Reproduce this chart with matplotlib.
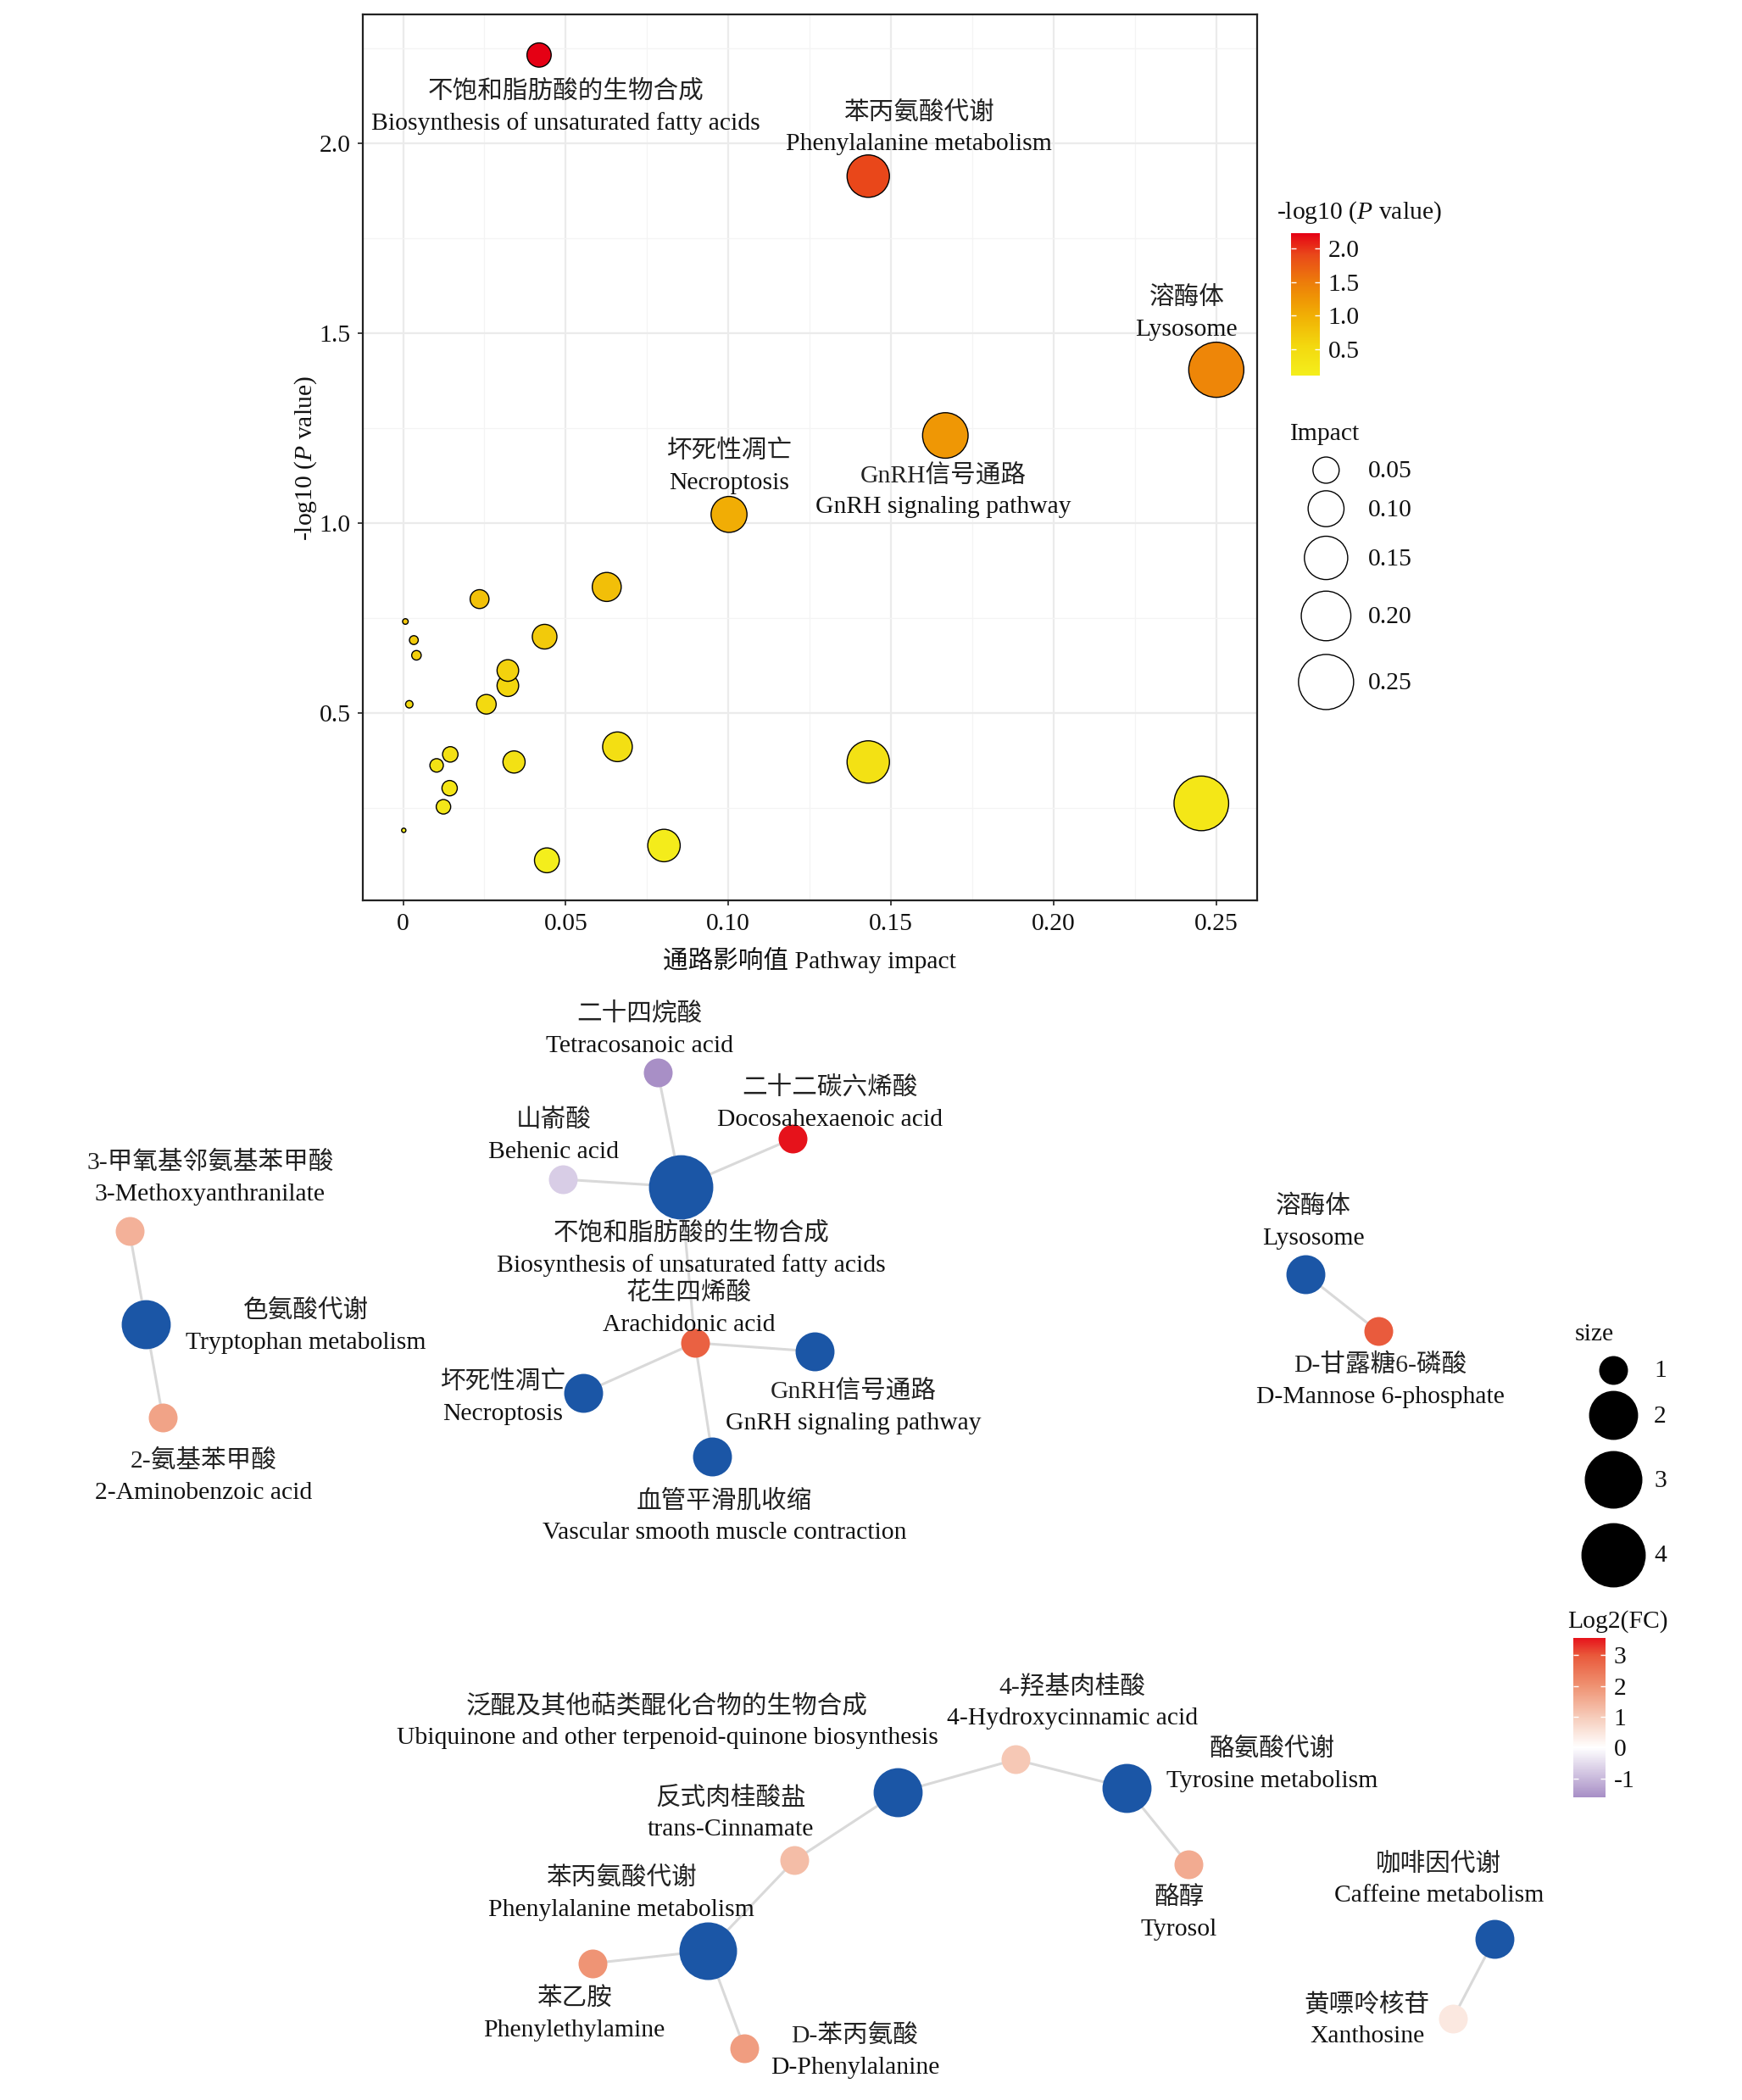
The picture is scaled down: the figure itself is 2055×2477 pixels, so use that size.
import numpy as np
import matplotlib
matplotlib.use("Agg")
import matplotlib.pyplot as plt
from matplotlib.colors import LinearSegmentedColormap, Normalize
import matplotlib.colorbar as mcolorbar

# ---------------- data: pathway bubble chart ----------------
pathway_impact = [0.0418, 0.1430, 0.2500, 0.1667, 0.1002, 0.0626, 0.0235, 0.0435,
                  0.0322, 0.0322, 0.0256, 0.0007, 0.0033, 0.0041, 0.0019, 0.0659,
                  0.0341, 0.0145, 0.0103, 0.0143, 0.0124, 0.0002, 0.0442, 0.0802,
                  0.1430, 0.2454]
pathway_neglogp = [2.233, 1.914, 1.404, 1.231, 1.023, 0.832, 0.800, 0.701,
                   0.612, 0.572, 0.523, 0.741, 0.692, 0.652, 0.523, 0.411,
                   0.371, 0.391, 0.362, 0.302, 0.253, 0.191, 0.112, 0.151,
                   0.371, 0.262]
top_label_point = [0, 1, 2, 4, 3]
top_label_cn = ['不饱和脂肪酸的生物合成', '苯丙氨酸代谢', '溶酶体', '坏死性凋亡', 'GnRH信号通路']
top_label_en = ['Biosynthesis of unsaturated fatty acids', 'Phenylalanine metabolism',
                'Lysosome', 'Necroptosis', 'GnRH signaling pathway']
x_ticks = [0, 0.05, 0.10, 0.15, 0.20, 0.25]
x_ticklabels = ['0', '0.05', '0.10', '0.15', '0.20', '0.25']
y_ticks = [0.5, 1.0, 1.5, 2.0]
y_ticklabels = ['0.5', '1.0', '1.5', '2.0']
impact_legend = [0.05, 0.10, 0.15, 0.20, 0.25]
impact_legend_labels = ['0.05', '0.10', '0.15', '0.20', '0.25']

# ---------------- data: network ----------------
net_cn = ['不饱和脂肪酸的生物合成', '二十四烷酸', '二十二碳六烯酸', '山嵛酸', '花生四烯酸',
          '坏死性凋亡', 'GnRH信号通路', '血管平滑肌收缩', '色氨酸代谢', '3-甲氧基邻氨基苯甲酸',
          '2-氨基苯甲酸', '溶酶体', 'D-甘露糖6-磷酸', '泛醌及其他萜类醌化合物的生物合成',
          '4-羟基肉桂酸', '酪氨酸代谢', '反式肉桂酸盐', '酪醇', '苯丙氨酸代谢', '苯乙胺',
          'D-苯丙氨酸', '咖啡因代谢', '黄嘌呤核苷']
net_en = ['Biosynthesis of unsaturated fatty acids', 'Tetracosanoic acid', 'Docosahexaenoic acid',
          'Behenic acid', 'Arachidonic acid', 'Necroptosis', 'GnRH signaling pathway',
          'Vascular smooth muscle contraction', 'Tryptophan metabolism', '3-Methoxyanthranilate',
          '2-Aminobenzoic acid', 'Lysosome', 'D-Mannose 6-phosphate',
          'Ubiquinone and other terpenoid-quinone biosynthesis', '4-Hydroxycinnamic acid',
          'Tyrosine metabolism', 'trans-Cinnamate', 'Tyrosol', 'Phenylalanine metabolism',
          'Phenylethylamine', 'D-Phenylalanine', 'Caffeine metabolism', 'Xanthosine']
net_is_pathway = [1, 0, 0, 0, 0, 1, 1, 1, 1, 0, 0, 1, 0, 1, 0, 1, 0, 0, 1, 0, 0, 1, 0]
net_size = [4, 1, 1, 1, 1, 1.5, 1.5, 1.5, 2, 1, 1, 1.5, 1, 2, 1, 2, 1, 1, 3, 1, 1, 1.5, 1]
net_log2fc = [np.nan, -1.6, 3.56, -0.7, 2.85, np.nan, np.nan, np.nan, np.nan, 1.45,
              1.7, np.nan, 2.95, np.nan, 1.05, np.nan, 1.25, 1.55, np.nan, 1.95,
              1.8, np.nan, 0.45]
# layout coordinates of the network nodes
node_x = [508.0, 490.9, 591.5, 419.9, 518.7, 435.2, 608.2, 531.7, 109.0, 96.5,
          121.5, 974.0, 1028.4, 670.0, 757.7, 840.5, 592.8, 886.7, 528.4, 442.4,
          555.7, 1115.5, 1084.3]
node_y = [885.6, 800.2, 849.6, 880.0, 1002.0, 1039.4, 1008.5, 1086.8, 987.9, 918.4,
          1057.7, 950.6, 993.5, 1337.6, 1313.0, 1333.9, 1388.2, 1391.0, 1455.6, 1465.0,
          1528.6, 1446.5, 1506.0]
net_edges = [(0, 1), (0, 2), (0, 3), (0, 4), (4, 5), (4, 6), (4, 7), (8, 9), (8, 10),
             (11, 12), (13, 14), (13, 16), (15, 14), (15, 17), (18, 16), (18, 19),
             (18, 20), (21, 22)]
size_legend = [1, 2, 3, 4]
fc_ticks = [-1, 0, 1, 2, 3]

# ---------------- style ----------------
plt.rcParams['font.family'] = ['Liberation Serif', 'Noto Sans CJK SC']
plt.rcParams['mathtext.fontset'] = 'custom'
plt.rcParams['mathtext.rm'] = 'Liberation Serif'
plt.rcParams['mathtext.it'] = 'Liberation Serif:italic'
plt.rcParams['axes.unicode_minus'] = False

W, H, DPI = 2055, 2477, 100
RW, RH = 1300.0, 1567.0          # layout units of the page
PT = W / RW * 72.0 / DPI          # points per layout unit
FS = 21.3
TXT = '#111111'
CN_COL = '#222222'

def fx(x):
    return x / RW

def fy(y):
    return 1 - y / RH

fig = plt.figure(figsize=(W / DPI, H / DPI), dpi=DPI)

# page-level axes in layout units (network + legends)
axn = fig.add_axes([0, 0, 1, 1])
axn.set_xlim(0, RW)
axn.set_ylim(RH, 0)
axn.axis('off')
axn.patch.set_alpha(0)

# ---------------- bubble chart ----------------
ax = fig.add_axes([fx(271), fy(672), fx(938) - fx(271), fy(11) - fy(672)])
imp = np.array(pathway_impact)
nlp = np.array(pathway_neglogp)
p_cmap = LinearSegmentedColormap.from_list(
    'pv', [(0.0, '#F4EE1C'), (0.2, '#F3D90F'), (0.4, '#F1B305'), (0.55, '#EF9305'),
           (0.65, '#ED7D0A'), (0.85, '#E9471A'), (1.0, '#E50014')])
p_norm = Normalize(nlp.min(), nlp.max())

def bubble_r(v):
    return 1.5 + 39.0 * np.sqrt(np.asarray(v, dtype=float))

r = bubble_r(imp)
order = np.argsort(-r)
ax.scatter(imp[order], nlp[order], s=(2 * r[order] * PT - 1.0) ** 2,
           c=p_cmap(p_norm(nlp[order])), edgecolors='black', linewidths=1.0, zorder=3)

xr = max(pathway_impact) - min(pathway_impact)
yr = nlp.max() - nlp.min()
ax.set_xlim(min(pathway_impact) - 0.05 * xr, max(pathway_impact) + 0.05 * xr)
ax.set_ylim(nlp.min() - 0.05 * yr, nlp.max() + 0.05 * yr)
ax.set_xticks(x_ticks)
ax.set_xticklabels(x_ticklabels)
ax.set_yticks(y_ticks)
ax.set_yticklabels(y_ticklabels)
ax.set_xticks(np.arange(0.025, 0.26, 0.05), minor=True)
ax.set_yticks([0.25, 0.75, 1.25, 1.75, 2.25], minor=True)
ax.grid(which='major', color='#EBEBEB', lw=1.6, zorder=0)
ax.grid(which='minor', color='#F4F4F4', lw=0.9, zorder=0)
ax.set_axisbelow(True)
ax.tick_params(which='major', length=4.5, width=1.3, color='#333333', labelsize=FS,
               labelcolor=TXT)
ax.tick_params(axis='x', pad=6)
ax.tick_params(axis='y', pad=6)
ax.tick_params(which='minor', length=0)
for sp in ax.spines.values():
    sp.set_color('#222222')
    sp.set_linewidth(1.6)

# labels of the top pathways
lab_x = [0.0501, 0.1586, 0.2409, 0.1003, 0.1660]
lab_y_cn = [2.1370, 2.0815, 1.5934, 1.1888, 1.1251]
lab_y_en = [2.0520, 1.9986, 1.5088, 1.1041, 1.0418]
for k in range(len(top_label_point)):
    ax.text(lab_x[k], lab_y_cn[k], top_label_cn[k], ha='center', va='center',
            fontsize=FS, color=CN_COL, fontweight='light', zorder=4)
    ax.text(lab_x[k], lab_y_en[k], top_label_en[k], ha='center', va='center',
            fontsize=FS, color=TXT, zorder=4)

fig.text(fx(604), fy(716.5), '通路影响值 Pathway impact', ha='center', va='center',
         fontsize=FS, color=TXT, fontweight='light')
fig.text(fx(228), fy(342), r'-log10 ($\mathit{P}$ value)', ha='center', va='center',
         rotation=90, fontsize=FS, color=TXT)

# colour legend (-log10 P)
cax = fig.add_axes([fx(963.5), fy(280), fx(985) - fx(963.5), fy(173.7) - fy(280)])
cb = mcolorbar.ColorbarBase(cax, cmap=p_cmap, norm=p_norm, orientation='vertical')
cb.set_ticks(y_ticks)
cb.set_ticklabels(y_ticklabels)
cb.outline.set_visible(False)
cax.minorticks_off()
cax.tick_params(axis='y', direction='in', length=4, width=1, color='white',
                left=True, right=True, labelleft=False, labelright=True,
                labelsize=FS, labelcolor=TXT, pad=7)
fig.text(fx(952.7), fy(158.5), r'-log10 ($\mathit{P}$ value)', ha='left', va='center',
         fontsize=FS, color=TXT)

# size legend (Impact)
axn.text(962.6, 324, 'Impact', ha='left', va='center', fontsize=FS, color=TXT)
imp_leg_y = [350.8, 379.6, 416.3, 459.6, 508.9]
rl = bubble_r(impact_legend)
axn.scatter([989.6] * len(impact_legend), imp_leg_y, s=(2 * rl * PT - 1.0) ** 2,
            facecolors='white', edgecolors='black', linewidths=1.0, zorder=3)
for yv, t in zip(imp_leg_y, impact_legend_labels):
    axn.text(1021, yv + 1, t, ha='left', va='center', fontsize=FS, color=TXT)

# ---------------- network ----------------
fc = np.array(net_log2fc, dtype=float)
fc_min, fc_max = np.nanmin(fc), np.nanmax(fc)
fc_stop_vals = [fc_min, 0.0, 1.0, 2.0, 3.0, fc_max]
fc_stop_cols = ['#A88FC6', '#FFFFFF', '#F6CBB9', '#EF9272', '#E9583A', '#E6121B']
fc_cmap = LinearSegmentedColormap.from_list(
    'fc', [((v - fc_min) / (fc_max - fc_min), c) for v, c in zip(fc_stop_vals, fc_stop_cols)])
fc_norm = Normalize(fc_min, fc_max)
PATH_COL = '#1B56A6'

def node_r(sz):
    return np.interp(sz, [1, 2, 3, 4], [10.75, 18.3, 21.5, 24.0])

for a, b in net_edges:
    axn.plot([node_x[a], node_x[b]], [node_y[a], node_y[b]], color='#D9D9D9',
             lw=2.2, zorder=1, solid_capstyle='butt')
for i in range(len(node_x)):
    col = PATH_COL if net_is_pathway[i] else fc_cmap(fc_norm(fc[i]))
    axn.scatter([node_x[i]], [node_y[i]], s=(2 * node_r(net_size[i]) * PT) ** 2,
                color=col, linewidths=0, zorder=2)

label_x = [515.9, 477.0, 619.4, 413.0, 514.0, 374.9, 637.0, 540.5, 228.3, 156.8,
           152.2, 980.2, 1030.2, 497.9, 800.0, 949.5, 545.2, 879.9, 463.9, 428.3,
           638.0, 1073.7, 1020.2]
label_y = [919.5, 755.7, 810.8, 834.8, 964.0, 1030.5, 1037.3, 1119.0, 977.4, 866.7,
           1089.0, 899.2, 1017.5, 1271.8, 1257.8, 1304.4, 1340.5, 1415.0, 1400.3, 1490.6,
           1518.1, 1389.6, 1495.0]
LINE = 23.8
for i in range(len(node_x)):
    axn.text(label_x[i], label_y[i] + 1, net_cn[i], ha='center', va='center',
             fontsize=FS, color=CN_COL, fontweight='light', zorder=4)
    axn.text(label_x[i], label_y[i] + 1 + LINE, net_en[i], ha='center', va='center',
             fontsize=FS, color=TXT, zorder=4)

# size legend of the network
axn.text(1175, 996, 'size', ha='left', va='center', fontsize=FS, color=TXT)
size_leg_y = [1022, 1056, 1104, 1160]
for sv, yv in zip(size_legend, size_leg_y):
    axn.scatter([1204], [yv], s=(2 * node_r(sv) * PT) ** 2, color='black',
                linewidths=0, zorder=3)
    axn.text(1239, yv + 1, str(sv), ha='center', va='center', fontsize=FS, color=TXT)

# Log2(FC) colour bar
cax2 = fig.add_axes([fx(1174), fy(1341), fx(1198) - fx(1174), fy(1222) - fy(1341)])
cb2 = mcolorbar.ColorbarBase(cax2, cmap=fc_cmap, norm=fc_norm, orientation='vertical')
cb2.set_ticks(fc_ticks)
cb2.set_ticklabels([str(t) for t in fc_ticks])
cb2.outline.set_visible(False)
cax2.minorticks_off()
cax2.tick_params(axis='y', direction='in', length=4, width=1, color='white',
                 left=True, right=True, labelleft=False, labelright=True,
                 labelsize=FS, labelcolor=TXT, pad=7)
axn.text(1170, 1210, 'Log2(FC)', ha='left', va='center', fontsize=FS, color=TXT)

fig.savefig('out.png', dpi=DPI, facecolor='white')
